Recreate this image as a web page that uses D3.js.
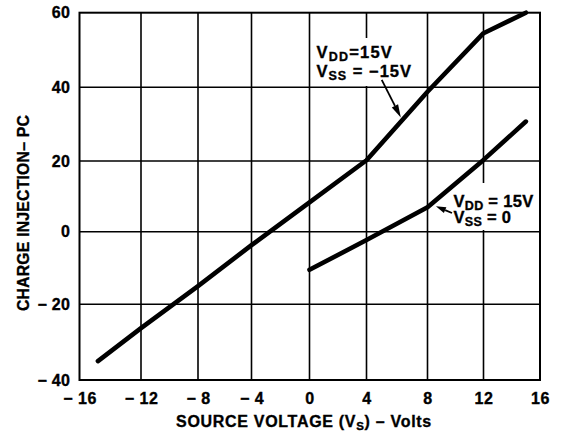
<!DOCTYPE html>
<html>
<head>
<meta charset="utf-8">
<script src="https://cdn.jsdelivr.net/npm/d3@7"></script>
<style>
  html, body { margin: 0; padding: 0; background: #fff; }
  svg { display: block; }
  text { font-family: "Liberation Sans", Arial, Helvetica, sans-serif; font-weight: bold; fill: #000; stroke: #000; stroke-width: 0.35px; }
</style>
</head>
<body>
<svg id="chart" width="562" height="434"></svg>
<script>
// ---------- data ----------
const xTicks = [-16, -12, -8, -4, 0, 4, 8, 12, 16];
const xTickLabels = ["\u2212 16", "\u2212 12", "\u2212 8", "\u2212 4", "0", "4", "8", "12", "16"];
const yTicks = [-40, -20, 0, 20, 40, 60];
const yTickLabels = ["\u2212 40", "\u2212 20", "0", "20", "40", "60"];

// V_DD = 15V, V_SS = -15V
const vssNeg15_x = [-14.8, -12, -8, -4, 0, 4, 8, 12, 15];
const vssNeg15_y = [-35, -26.3, -15, -3.7, 8.3, 20.2, 38.8, 54.5, 60];
// V_DD = 15V, V_SS = 0
const vss0_x = [0, 4, 8, 12, 15];
const vss0_y = [-10.5, -2.3, 6.9, 20.3, 30.7];

const xTitle = ["SOURCE VOLTAGE (V", "S", ") \u2013 Volts"];
const yTitle = "CHARGE INJECTION\u2013 PC";

// ---------- layout ----------
(function () {
const svg = d3.select("#chart");
svg.append("rect").attr("width", 562).attr("height", 434).attr("fill", "#fff");

const pLeft = 79.5, pRight = 540, pTop = 12.7, pBottom = 380;
// scanned grid is slightly uneven: map each printed gridline to its position
const x = d3.scaleLinear().domain(xTicks)
  .range([pLeft, 141, 198, 251.5, 309.5, 366.5, 427.5, 483.5, pRight]);
const y = d3.scaleLinear().domain(yTicks)
  .range([pBottom, 304.3, 231.7, 161, 87.3, pTop]);

// grid lines
const grid = svg.append("g");
grid.selectAll("line.v").data(xTicks.slice(1, -1)).join("line")
  .attr("x1", d => x(d)).attr("x2", d => x(d))
  .attr("y1", pTop).attr("y2", pBottom)
  .attr("stroke", "#000").attr("stroke-width", 1.6);
grid.selectAll("line.h").data(yTicks.slice(1, -1)).join("line")
  .attr("y1", d => y(d)).attr("y2", d => y(d))
  .attr("x1", pLeft).attr("x2", pRight)
  .attr("stroke", "#000").attr("stroke-width", 1.4);

// label boxes (white, interrupt the grid)
svg.append("rect").attr("x", 312).attr("y", 38).attr("width", 113).attr("height", 48).attr("fill", "#fff");
svg.append("rect").attr("x", 452).attr("y", 183).attr("width", 86).attr("height", 47).attr("fill", "#fff");

// frame
svg.append("rect").attr("x", pLeft).attr("y", pTop)
  .attr("width", pRight - pLeft).attr("height", pBottom - pTop)
  .attr("fill", "none").attr("stroke", "#000").attr("stroke-width", 2);

// axes (labels only)
const xAxis = d3.axisBottom(x).tickValues(xTicks)
  .tickFormat((d, i) => xTickLabels[i]).tickSize(0).tickPadding(12.2);
const gx = svg.append("g").attr("transform", `translate(0,${pBottom})`).call(xAxis);
gx.select(".domain").remove();
gx.attr("font-family", null).attr("font-size", null);
gx.selectAll("text").attr("font-size", 16).attr("letter-spacing", 0.5)
  .attr("font-family", null).attr("fill", "#000");

const yAxis = d3.axisLeft(y).tickValues(yTicks)
  .tickFormat((d, i) => yTickLabels[i]).tickSize(0).tickPadding(9.5);
const gy = svg.append("g").attr("transform", `translate(${pLeft},0)`).call(yAxis);
gy.select(".domain").remove();
gy.attr("font-family", null).attr("font-size", null);
gy.selectAll("text").attr("font-size", 16).attr("letter-spacing", 0.2)
  .attr("font-family", null).attr("fill", "#000");

// curves
const line = d3.line().x(d => x(d[0])).y(d => y(d[1]));
const s1 = vssNeg15_x.map((v, i) => [v, vssNeg15_y[i]]);
const s2 = vss0_x.map((v, i) => [v, vss0_y[i]]);
[s1, s2].forEach(s => {
  svg.append("path").datum(s).attr("d", line)
    .attr("fill", "none").attr("stroke", "#000").attr("stroke-width", 4.6)
    .attr("stroke-linejoin", "round").attr("stroke-linecap", "round");
});

// annotations
function label(px, py, sub, rest, spacing) {
  const t = svg.append("text").attr("x", px).attr("y", py)
    .attr("font-size", 16.5).attr("letter-spacing", spacing);
  t.append("tspan").text("V");
  t.append("tspan").attr("font-size", 12.5).attr("dy", 3).text(sub);
  t.append("tspan").attr("dy", -3).text(rest);
  return t;
}
label(316.5, 58.3, "DD", "=15V", 1.2);
label(316.5, 76.7, "SS", " = \u221215V", 1.0);
label(453.5, 206.7, "DD", " = 15V", 0.3);
label(453.5, 223.3, "SS", " = 0", 0.3);

function arrow(x0, y0, x1, y1, len, hw) {
  const dx = x1 - x0, dy = y1 - y0, L = Math.hypot(dx, dy);
  const ux = dx / L, uy = dy / L;
  const bx = x1 - ux * len, by = y1 - uy * len;
  svg.append("line").attr("x1", x0).attr("y1", y0).attr("x2", bx).attr("y2", by)
    .attr("stroke", "#000").attr("stroke-width", 1.8);
  svg.append("path")
    .attr("d", `M${x1},${y1}L${bx - uy * hw},${by + ux * hw}L${bx + uy * hw},${by - ux * hw}Z`)
    .attr("fill", "#000");
}
arrow(x(5.0), y(42), x(6.25), y(31.8), 13, 3.5);
arrow(x(9.75), y(5.3), x(8.6), y(7.2), 10, 3.2);

// axis titles
const xt = svg.append("text").attr("x", 304).attr("y", 426.7)
  .attr("text-anchor", "middle").attr("font-size", 16).attr("letter-spacing", 0.7);
xt.append("tspan").text(xTitle[0]);
xt.append("tspan").attr("font-size", 11.5).attr("dy", 3).text(xTitle[1]);
xt.append("tspan").attr("dy", -3).text(xTitle[2]);

svg.append("text").attr("transform", "translate(28.5,213) rotate(-90)")
  .attr("text-anchor", "middle").attr("font-size", 15.8).attr("letter-spacing", 0.2)
  .text(yTitle);
})();
</script>
</body>
</html>
